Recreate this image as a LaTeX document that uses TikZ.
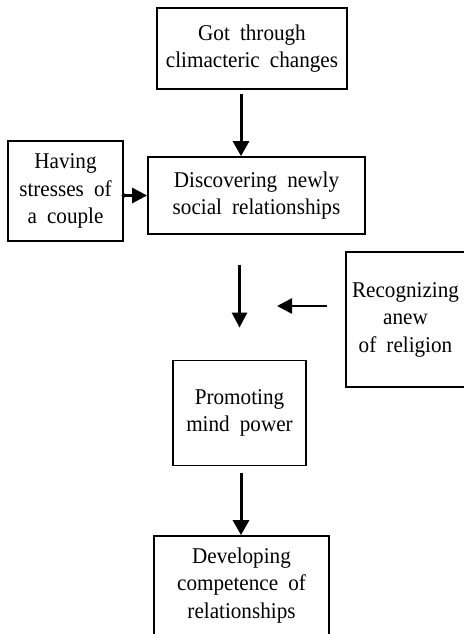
\documentclass[tikz,border=0pt]{standalone}
\usepackage{fontspec}
\setmainfont{Liberation Serif}[FakeStretch=0.94]
\usetikzlibrary{arrows.meta}
\begin{document}
\begin{tikzpicture}[x=1pt,y=-1pt,
  box/.style={draw,line width=1.8pt,rectangle,align=center,inner sep=2pt,
    font={\fontsize{22.5}{27.5}\selectfont\spaceskip=0.45em\relax}},
  thickarr/.style={line width=3pt,-{Triangle[width=16pt,length=15pt]}},
  thinarr/.style={line width=2.6pt,-{Triangle[width=15pt,length=15pt]}}]
\useasboundingbox (0,0) rectangle (463,634);
\node[box,minimum width=190pt,minimum height=81pt] (got) at (252,48.5) {Got through\\climacteric changes};
\node[box,minimum width=217pt,minimum height=77pt] (disc) at (256.5,195.5) {Discovering newly\\social relationships};
\node[box,minimum width=115pt,minimum height=100pt] (stress) at (65.5,191) {Having\\stresses of\\a couple};
\node[box,minimum width=119pt,minimum height=135pt] (rel) at (405.5,319.5) {Recognizing\\anew\\of religion};
\node[box,minimum width=133pt,minimum height=105pt] (promo) at (239.5,413) {Promoting\\mind power};
\node[box,minimum width=175pt,minimum height=99pt] (dev) at (241.5,585.5) {Developing\\competence of\\relationships};
\coordinate (lt) at (277,306);
\draw[thickarr,shorten <=4pt] ([xshift=-11pt]got.south) -- ([xshift=-11pt]got.south |- disc.north);
\draw[line width=3pt,{Circle[length=4pt,width=4pt]}-{Triangle[width=15pt,length=15pt]}] ([xshift=-2pt]stress.east |- disc.west) -- (disc.west);
\draw[thinarr,shorten <=30pt,shorten >=32pt] (disc.south -| promo) -- (promo.north);
\draw[thinarr,shorten <=18pt] ([yshift=13.5pt]rel.west) -- (lt);
\draw[thickarr,shorten <=7pt] ([xshift=1.5pt]promo.south) -- ([xshift=1.5pt]promo.south |- dev.north);
\end{tikzpicture}
\end{document}
